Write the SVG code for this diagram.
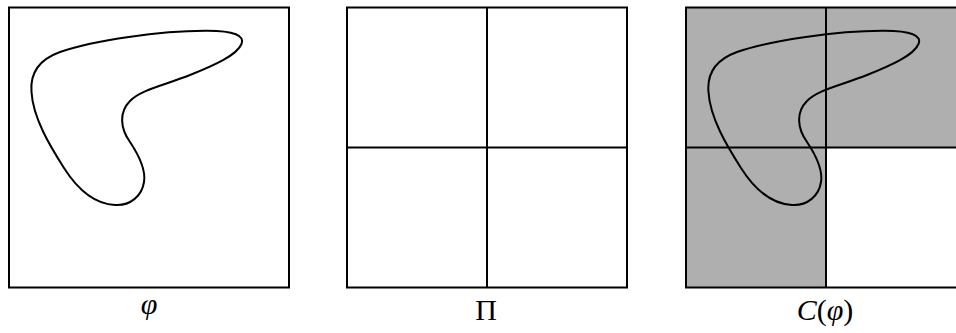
<svg xmlns="http://www.w3.org/2000/svg" width="956" height="333" viewBox="0 0 956 333">
<defs>
<style>
.frame{fill:none;stroke:#000;stroke-width:2}
.line{stroke:#000;stroke-width:2}
.shade{fill:#afafaf;stroke:none}
.curve{fill:none;stroke:#000;stroke-width:2}
.lbl{font-family:"Liberation Serif",serif;font-size:30px;fill:#000;text-anchor:middle}
.it{font-style:italic}
</style>
<path id="blob" class="curve" d="M 31.5,92 C 30,75 38,60 60,52 C 95,40 160,31 205,30.8 C 235,30.5 245,36 241.5,44 C 237,55 215,65 190,75 C 165,85 140,90 130,101 C 119,112 120,128 130,142 C 140,157 146,170 144,182 C 142,196 130,206 115,205 C 95,204 78,190 64,168 C 50,146 33,118 31.5,92 Z"/>
</defs>
<g id="phi">
<rect class="frame" x="9" y="7.5" width="280" height="280"/>
<use href="#blob"/>
<text class="lbl it" x="149" y="314">φ</text>
</g>
<g id="partition">
<rect class="frame" x="347" y="7.5" width="280" height="280"/>
<line class="line" x1="487" y1="7.5" x2="487" y2="287.5"/>
<line class="line" x1="347" y1="147.5" x2="627" y2="147.5"/>
<text class="lbl" x="486" y="320">Π</text>
</g>
<g id="cover">
<rect class="shade" x="686" y="7.5" width="280" height="140"/>
<rect class="shade" x="686" y="147.5" width="140" height="140"/>
<rect class="frame" x="686" y="7.5" width="280" height="280"/>
<line class="line" x1="826" y1="7.5" x2="826" y2="287.5"/>
<line class="line" x1="686" y1="147.5" x2="966" y2="147.5"/>
<use href="#blob" transform="translate(677,0)"/>
<text class="lbl" x="825" y="320"><tspan class="it">C</tspan>(<tspan class="it">φ</tspan>)</text>
</g>
<g id="connectors"/>
</svg>
